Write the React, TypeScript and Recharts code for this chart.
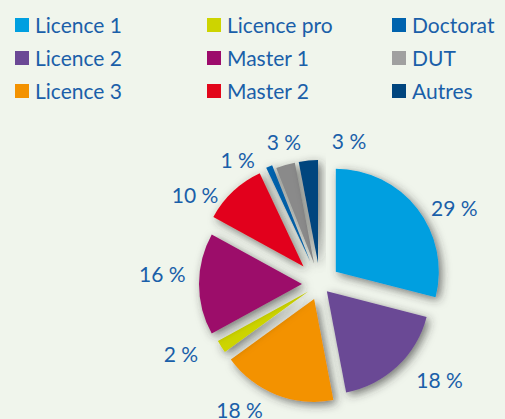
import { PieChart, Pie, Cell, Legend, Sector } from "recharts";

const categories = ["Licence 1", "Licence 2", "Licence 3", "Licence pro", "Master 1", "Master 2", "Doctorat", "DUT", "Autres"];
const shares = [29, 18, 18, 2, 16, 10, 1, 3, 3];

const colors = ["#009fe0", "#6b4895", "#f39200", "#cdd400", "#9c0b6b", "#e2061a", "#0063ae", "#8a8a8a", "#00457e"];
const legendColors = ["#009fe0", "#6b4895", "#f39200", "#cdd400", "#9c0b6b", "#e2061a", "#0063ae", "#a0a0a0", "#00457e"];
// how far each slice is pulled out, px
const explode = [20, 10, 16, 14, 18, 24, 25, 21, 21];
// small angle tweaks for the % labels (degrees, clockwise)
const labelNudge = [6, -6, 9, 4, 4, -9, -8, 3, 16];

const data = categories.map((name, i) => ({ name, value: shares[i] }));

const BLUE = "#1a5fa9";
const FONT = "Lato, 'Open Sans', sans-serif";
const RAD = Math.PI / 180;

const renderSlice = (props: any) => {
  const i = categories.indexOf(props.name ?? props.payload?.name);
  const d = explode[i] ?? 0;
  const a = props.midAngle * RAD;
  return (
    <Sector
      {...props}
      cx={props.cx + d * Math.cos(a)}
      cy={props.cy - d * Math.sin(a)}
      filter="url(#sliceShadow)"
    />
  );
};

const renderLabel = (props: any) => {
  const { cx, cy, midAngle, index, value } = props;
  const a = (midAngle - (labelNudge[index] ?? 0)) * RAD;
  return (
    <text
      x={cx + 158 * Math.cos(a)}
      y={cy - 146 * Math.sin(a)}
      fill={BLUE}
      fontSize={21}
      fontFamily={FONT}
      textAnchor="middle"
      dominantBaseline="central"
    >
      {`${value} %`}
    </text>
  );
};

const renderLegend = () => (
  <div
    style={{
      display: "grid",
      gridTemplateColumns: "192px 185px 113px",
      gridTemplateRows: "33px 33px 33px",
      gridAutoFlow: "column",
      paddingLeft: 15,
      paddingTop: 8,
      fontFamily: FONT,
      fontSize: 21,
      color: BLUE,
    }}
  >
    {categories.map((c, i) => (
      <div key={c} style={{ display: "flex", alignItems: "center" }}>
        <span style={{ width: 14, height: 14, background: legendColors[i], marginRight: 6, flex: "none" }} />
        <span>{c}</span>
      </div>
    ))}
  </div>
);

export default function App() {
  return (
    <div style={{ position: "absolute", left: 0, top: 0, width: 505, height: 419, background: "#f0f5ec" }}>
      <PieChart width={505} height={419} margin={{ top: 0, right: 0, bottom: 0, left: 0 }}>
        <defs>
          <filter id="sliceShadow" x="-40%" y="-40%" width="180%" height="180%">
            <feDropShadow dx="3" dy="3" stdDeviation="5" floodColor="#333333" floodOpacity="0.65" />
          </filter>
        </defs>
        <Legend
          content={renderLegend}
          layout="horizontal"
          verticalAlign="middle"
          wrapperStyle={{ top: 0, left: 0, width: 505, height: 110 }}
        />
        <Pie
          data={data}
          dataKey="value"
          nameKey="name"
          cx={320}
          cy={284}
          innerRadius={0}
          outerRadius={103}
          startAngle={90}
          endAngle={-270}
          stroke="none"
          shape={renderSlice}
          label={renderLabel}
          labelLine={false}
          isAnimationActive={false}
        >
          {data.map((d, i) => (
            <Cell key={d.name} fill={colors[i]} />
          ))}
        </Pie>
      </PieChart>
    </div>
  );
}
